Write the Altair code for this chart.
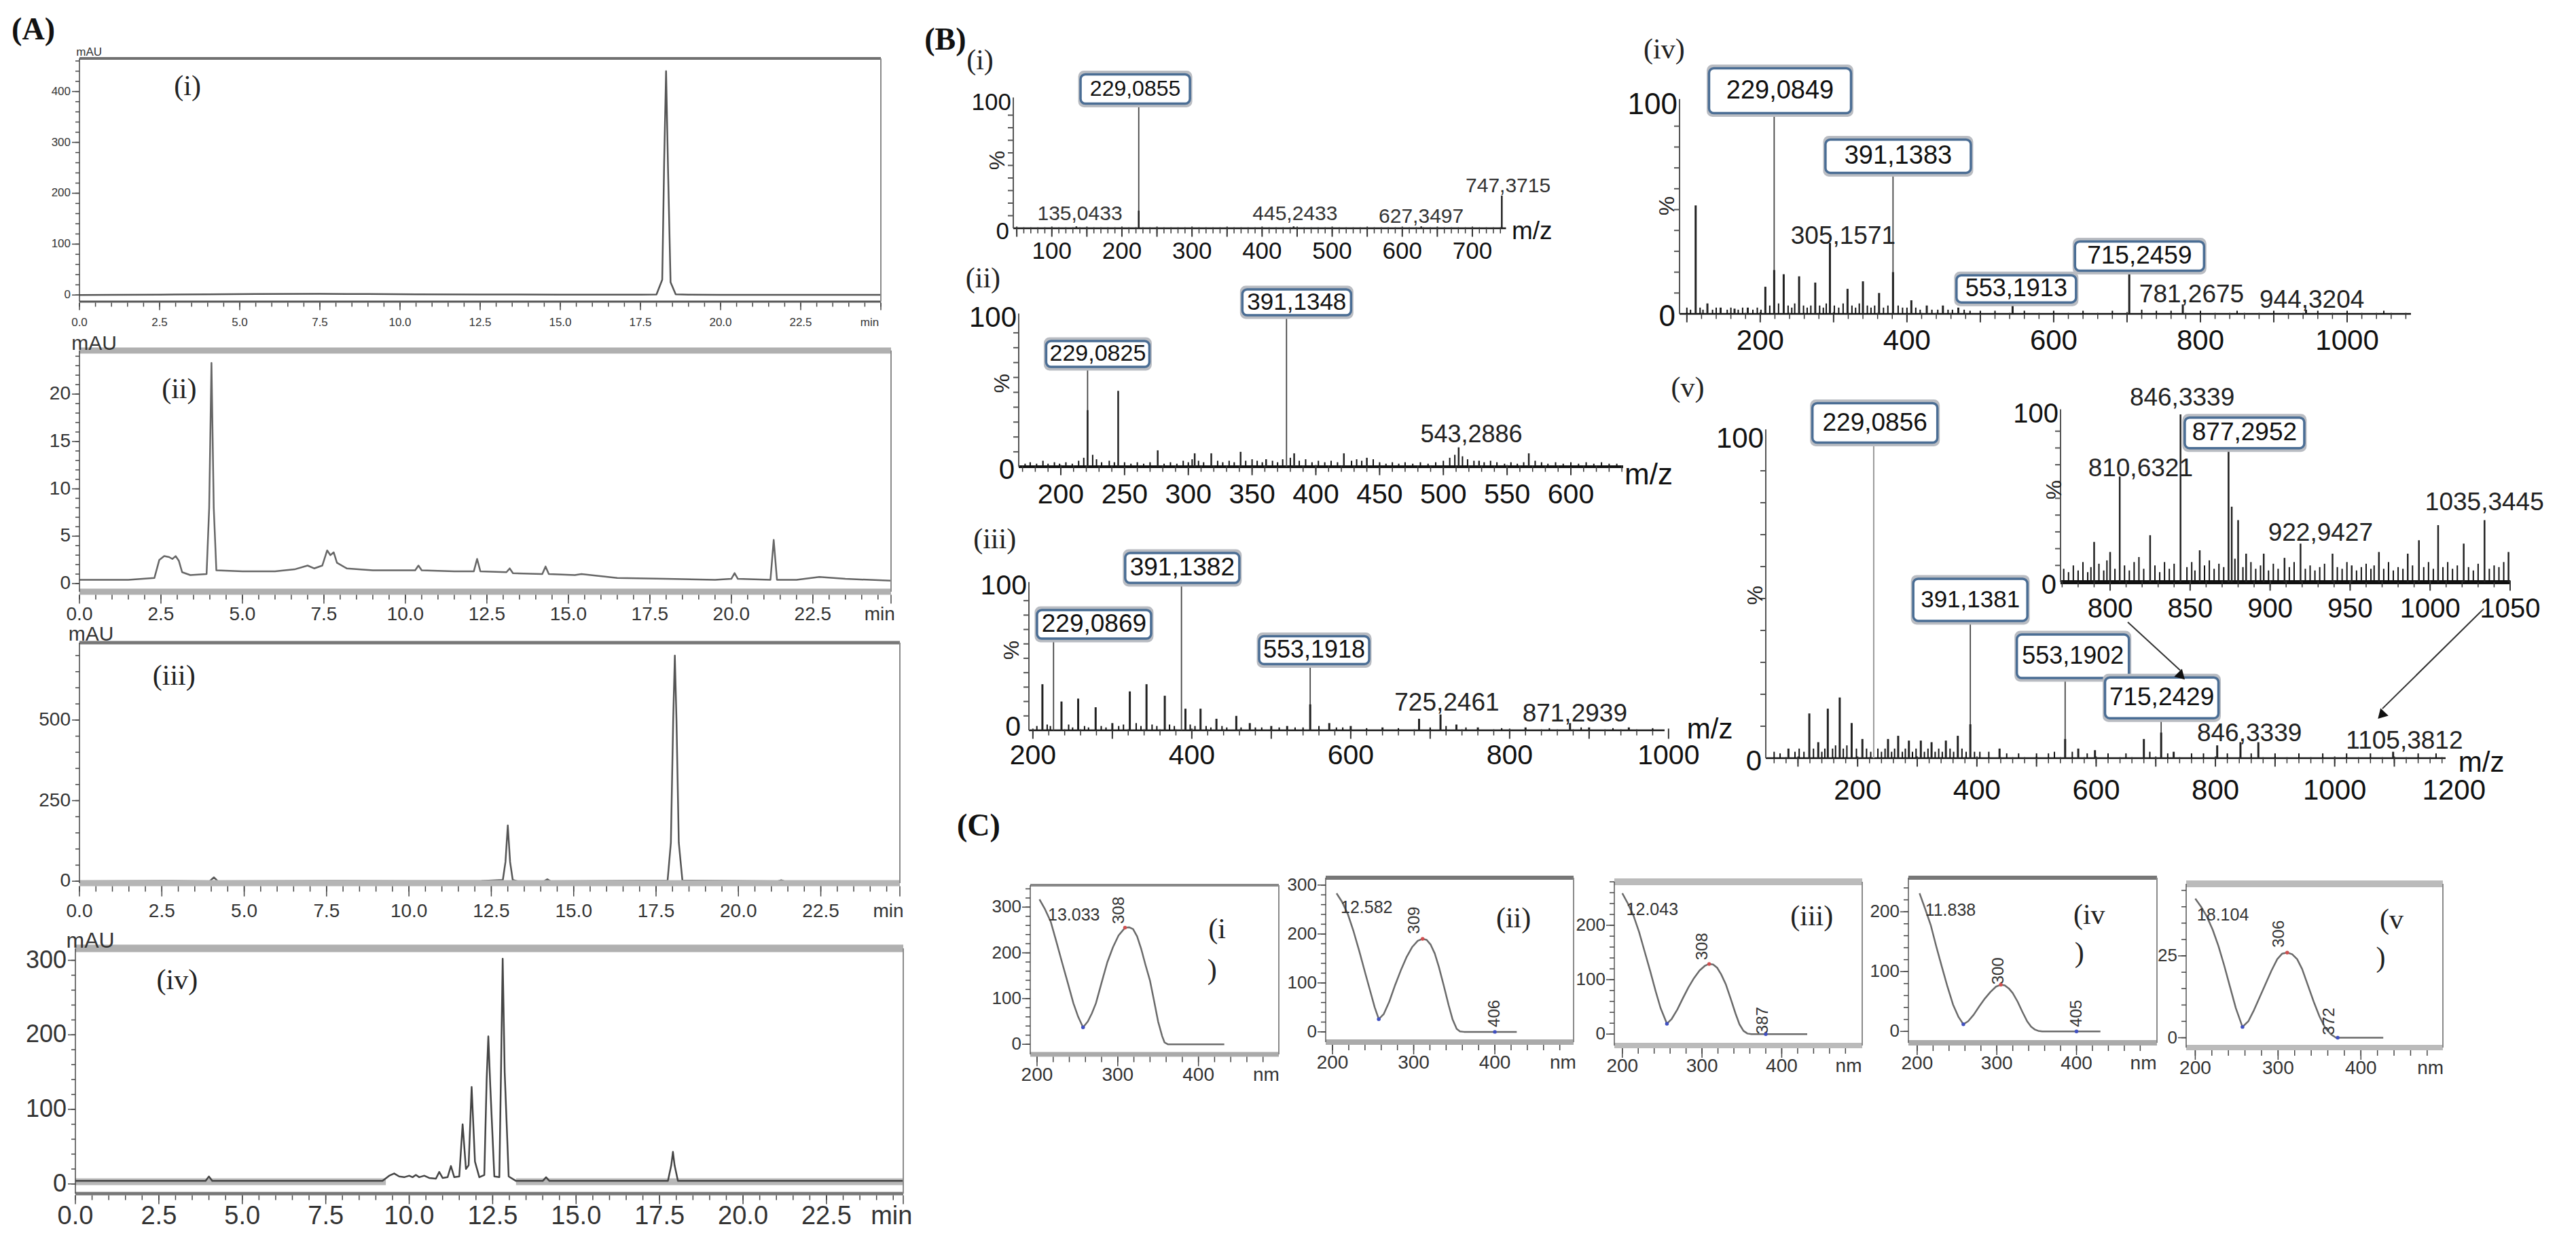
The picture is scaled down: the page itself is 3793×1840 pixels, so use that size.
import altair as alt
import pandas as pd

M = 8
W, H = 3777, 1824
SANS = "Liberation Sans, Arial, Helvetica, sans-serif"
NARROW = "Liberation Sans Narrow, Arial Narrow, Liberation Sans, sans-serif"
SERIF = "Liberation Serif, Times New Roman, serif"

# ---------------- (A) HPLC chromatograms: time (min) / absorbance (mAU) ----------------
a1_t = [0, 1, 2.5, 4, 5.5, 7.5, 9, 10.5, 12.5, 15, 17.5, 18.0, 18.18, 18.24, 18.3, 18.36, 18.44, 18.6, 19, 20, 22.5, 25]
a1_v = [0, 0.3, 0.8, 1.5, 2, 2.2, 2, 1.5, 1, 0.8, 0.7, 1.0, 30, 260, 440, 250, 25, 1.5, 0.7, 0.5, 0.5, 0.5]

a2_t = [0, 1.5, 2.3, 2.45, 2.6, 2.75, 2.85, 2.95, 3.05, 3.15, 3.4, 3.9, 3.98, 4.05, 4.12, 4.2, 5.0, 6.0, 6.6,
        7.0, 7.2, 7.45, 7.6, 7.7, 7.8, 7.9, 8.2, 9.0, 10.3, 10.4, 10.5, 11.5, 12.1, 12.2, 12.3, 13.1, 13.2,
        13.3, 14.2, 14.3, 14.4, 15.2, 15.4, 16.5, 18, 19.5, 20.0, 20.1, 20.2, 21.2, 21.3, 21.4, 22.0, 22.7,
        23.5, 24.9]
a2_v = [0.4, 0.4, 0.6, 2.5, 2.9, 2.8, 2.6, 2.9, 2.4, 1.2, 0.9, 1.0, 8, 23.3, 8, 1.4, 1.3, 1.3, 1.5,
        1.9, 1.6, 1.9, 3.5, 3.0, 3.3, 2.2, 1.6, 1.4, 1.4, 1.9, 1.4, 1.3, 1.3, 2.6, 1.3, 1.2, 1.6,
        1.1, 1.0, 1.8, 1.0, 0.9, 1.0, 0.6, 0.5, 0.4, 0.5, 1.1, 0.5, 0.4, 4.6, 0.4, 0.4, 0.7,
        0.5, 0.3]

a3_t = [0, 2.5, 3.95, 4.08, 4.2, 7.5, 10, 12.2, 12.85, 12.93, 13.0, 13.07, 13.15, 13.3, 14.1, 14.2, 14.3,
        17.85, 17.95, 18.02, 18.07, 18.12, 18.19, 18.3, 21.2, 21.3, 21.4, 24.9]
a3_v = [0, 1, 0, 12, 0, 1, 0.5, 1, 4, 60, 173, 60, 4, 0, 0, 6, 0,
        2, 120, 500, 700, 500, 120, 2, 0, 3, 0, 0]

a4_t = [0, 3.9, 4.0, 4.1, 9.2, 9.4, 9.55, 9.7, 9.85, 10.0, 10.1, 10.2, 10.3, 10.45, 10.6, 10.8, 10.9, 11.0,
        11.15, 11.25, 11.35, 11.5, 11.6, 11.7, 11.78, 11.87, 11.97, 12.1, 12.25, 12.32, 12.37, 12.43, 12.55,
        12.7, 12.75, 12.8, 12.86, 12.98, 13.2, 14.0, 14.1, 14.2, 17.75, 17.85, 17.9, 17.95, 18.05, 24.8]
a4_v = [4, 4, 10, 4, 4, 11, 14, 10, 9, 11, 9, 12, 9, 11, 8, 7, 16, 8,
        9, 24, 9, 10, 80, 20, 25, 130, 30, 9, 12, 140, 198, 130, 10,
        9, 150, 302, 150, 10, 4, 4, 9, 4, 4, 25, 43, 25, 4, 4]
# light grey baseline band of chromatogram (iv)
a4_band1_t = [0, 9.3]
a4_band1_v = [3, 3]
a4_band2_t = [13.2, 24.8]
a4_band2_v = [3, 3]

# ---------------- (B) mass spectra: m/z / relative intensity (%) ----------------
b1_mz = [135, 224, 445, 627, 742]
b1_h = [1.5, 14, 1.5, 1.5, 26]

b2_mz = [221, 245, 276, 305, 318, 341, 361, 383, 422, 440, 512, 528, 567]
b2_h = [38, 51, 11, 9, 9, 10, 5, 9, 9, 6, 13, 4, 9]
b2_nz_mz = [172, 176, 181, 186, 190, 195, 199, 204, 209, 214, 218, 225, 228, 232, 238, 242, 250, 255, 260, 265,
            270, 281, 286, 291, 296, 300, 303, 308, 312, 323, 327, 332, 336, 345, 350, 354, 358, 366, 370, 374,
            380, 387, 392, 397, 402, 407, 412, 417, 428, 432, 436, 445, 450, 455, 460, 465, 470, 476, 482, 488,
            494, 500, 505, 509, 515, 519, 524, 532, 537, 542, 548, 553, 558, 563, 572, 577, 582, 588, 594, 600,
            606, 612, 618, 624, 630, 636]
b2_nz_h = [2, 3, 2, 4, 2, 3, 2, 3, 2, 4, 6, 8, 5, 3, 4, 3, 3, 2, 3, 2,
           3, 2, 3, 2, 4, 3, 5, 4, 3, 4, 3, 4, 3, 4, 5, 4, 3, 4, 3, 5,
           6, 4, 5, 3, 4, 3, 4, 3, 4, 5, 4, 5, 3, 2, 3, 2, 3, 2, 3, 2,
           3, 4, 6, 8, 7, 5, 4, 3, 4, 3, 2, 3, 2, 3, 4, 3, 2, 3, 2, 3,
           2, 3, 2, 3, 2, 2]

b3_mz = [212, 236, 257, 279, 300, 322, 343, 366, 392, 411, 431, 456, 473, 500, 520, 549, 573, 600, 640, 686,
         713, 733, 760, 820, 876, 900, 950]
b3_h = [32, 20, 22, 16, 5, 27, 32, 24, 15, 15, 8, 10, 5, 3, 3, 18, 5, 3, 2, 8,
        11, 4, 2, 2, 5, 2, 2]
b3_nz_mz = [205, 218, 222, 245, 250, 265, 270, 286, 292, 308, 314, 330, 336, 350, 356, 372, 378, 398, 404, 418,
            424, 438, 444, 462, 480, 488, 510, 530, 540, 560, 582, 590, 620, 660, 700, 720, 745, 790, 850, 890,
            930, 980]
b3_nz_h = [3, 4, 3, 4, 2, 3, 2, 3, 2, 3, 4, 5, 3, 4, 3, 4, 3, 4, 3, 3,
           2, 3, 2, 2, 2, 2, 2, 2, 2, 3, 2, 2, 1.5, 1.5, 2, 3, 2, 1.5, 1.5, 2,
           1.5, 1.5]

b4_mz = [112, 128, 146, 165, 183, 207, 219, 232, 253, 275, 295, 319, 340, 362, 381, 406, 427, 449, 470, 544,
         703, 776, 944]
b4_h = [52, 5, 3, 2.5, 3, 13, 21, 19, 18, 15, 34, 12, 15.6, 10, 20, 6.5, 4, 4, 3, 5,
        20.5, 4.5, 2]
b4_nz_mz = [100, 105, 118, 122, 135, 140, 155, 160, 170, 176, 190, 196, 201, 213, 225, 238, 243, 247, 259, 264,
            269, 281, 286, 290, 301, 307, 313, 325, 330, 335, 346, 351, 356, 368, 374, 388, 394, 400, 412, 418,
            434, 442, 456, 462, 478, 486, 500, 520, 560, 600, 640, 680, 720, 740, 760, 800, 850, 900, 960, 1000,
            1050]
b4_nz_h = [3, 2, 3, 2, 2, 3, 2, 3, 2, 3, 2, 3, 2, 4, 5, 4, 3, 5, 4, 3,
           4, 4, 3, 5, 4, 3, 5, 4, 3, 5, 4, 3, 4, 3, 4, 4, 3, 3, 3, 2,
           2, 2, 2, 2, 2, 1.5, 1.5, 1.5, 1.5, 1.5, 1.5, 1.5, 2, 1.5, 1.5, 1.5, 1.5, 1.5, 1.5, 1.5,
           1.5]

b5_mz = [84, 119, 134, 150, 170, 190, 208, 251, 268, 286, 306, 324, 348, 368, 389, 438, 548, 570, 598, 680,
         709, 730, 803, 842, 872, 1098]
b5_h = [3, 14, 5, 15.5, 19, 11, 6, 6, 7, 5.5, 5.5, 5, 5.5, 7, 10.6, 3, 6, 3, 2.5, 6,
        8, 2, 4, 5, 5, 2]
b5_nz_mz = [60, 70, 95, 102, 110, 126, 140, 145, 158, 163, 176, 182, 198, 215, 222, 234, 240, 246, 257, 262,
            275, 280, 292, 298, 312, 318, 330, 336, 342, 355, 361, 375, 382, 396, 405, 420, 450, 470, 500, 520,
            530, 560, 585, 620, 650, 690, 720, 760, 780, 820, 860, 900, 940, 980, 1020, 1060, 1140, 1170]
b5_nz_h = [2, 1.5, 2, 3, 2, 3, 2, 3, 3, 4, 3, 4, 3, 3, 2, 3, 2, 3, 2, 3,
           2, 3, 2, 3, 2, 3, 2, 3, 2, 3, 2, 3, 2, 2, 2, 2, 1.5, 1.5, 1.5, 1.5,
           2, 2, 1.5, 1.5, 1.5, 2, 1.5, 1.5, 1.5, 1.5, 1.5, 1.5, 1.5, 1.5, 1.5, 1.5, 1.5, 1.5]

in_mz = [790, 800, 806, 825, 844, 856, 874, 876, 880, 885, 896, 909, 919, 939, 951, 968, 986, 993, 1005, 1021,
         1034, 1049]
in_h = [24, 18, 63, 28, 100, 19, 80, 45, 37, 17, 17, 14.5, 23, 17, 10, 18, 17, 25, 34, 23,
        37, 18]
in_nz_mz = [771, 774, 777, 780, 783, 786, 788, 793, 796, 798, 803, 809, 812, 815, 818, 821, 828, 831, 834, 837,
            840, 848, 851, 853, 859, 862, 865, 868, 871, 878, 883, 888, 891, 894, 899, 902, 905, 912, 915, 922,
            925, 928, 931, 934, 942, 945, 948, 954, 957, 960, 963, 965, 971, 974, 977, 980, 983, 989, 996, 999,
            1002, 1008, 1011, 1014, 1017, 1024, 1027, 1030, 1037, 1040, 1043, 1046]
in_nz_h = [8, 6, 10, 7, 12, 6, 9, 11, 7, 13, 8, 10, 7, 12, 15, 8, 10, 6, 12, 8,
           11, 9, 12, 7, 10, 13, 8, 11, 9, 14, 9, 12, 8, 10, 7, 11, 8, 9, 12, 8,
           10, 7, 9, 11, 9, 8, 12, 7, 9, 11, 8, 10, 8, 12, 7, 9, 8, 10, 9, 12,
           8, 9, 12, 8, 10, 9, 7, 11, 8, 10, 9, 12]

# ---------------- (C) UV spectra: wavelength (nm) / absorbance ----------------
c1_nm = [203, 210, 217, 224, 231, 238, 245, 251, 257, 263, 268, 273, 280, 287, 294, 301, 309, 314, 319, 324,
         329, 334, 340, 345, 350, 355, 358, 362, 380, 432]
c1_ab = [317, 295, 268, 224, 179, 135, 90, 60, 37, 50, 68, 90, 135, 179, 212, 238, 255, 256, 252, 236,
         209, 176, 139, 95, 50, 18, 4, 0, 0, 0]
c2_nm = [205, 212, 219, 226, 233, 240, 247, 252, 257, 263, 270, 277, 284, 291, 298, 305, 311, 316, 321, 326,
         331, 337, 343, 348, 353, 357, 362, 380, 427]
c2_ab = [283, 265, 240, 205, 165, 122, 80, 50, 26, 36, 62, 95, 125, 152, 173, 186, 190, 188, 178, 160,
         133, 95, 55, 25, 6, 1, 0, 0, 0]
c3_nm = [200, 207, 214, 221, 228, 235, 242, 248, 256, 262, 269, 276, 283, 290, 297, 304, 309, 314, 319, 324,
         330, 336, 342, 347, 352, 357, 362, 380, 432]
c3_ab = [259, 240, 218, 188, 152, 116, 78, 48, 19, 28, 45, 66, 86, 103, 117, 126, 129, 128, 122, 110,
         91, 65, 38, 18, 6, 1, 0, 0, 0]
c4_nm = [203, 210, 217, 224, 231, 238, 245, 252, 258, 264, 271, 278, 285, 292, 299, 305, 310, 315, 320, 326,
         332, 338, 343, 348, 352, 357, 380, 430]
c4_ab = [231, 205, 178, 142, 108, 75, 45, 24, 12, 17, 28, 42, 55, 66, 75, 78, 77, 72, 64, 50,
         33, 17, 8, 3, 1, 0, 0, 0]
c5_nm = [200, 207, 214, 221, 228, 235, 242, 249, 257, 264, 271, 278, 285, 292, 299, 305, 311, 317, 323, 329,
         336, 343, 350, 357, 364, 370, 380, 427]
c5_ab = [42.5, 40, 37, 33, 28, 22, 15.5, 9, 3.3, 5, 8.5, 12.5, 16.5, 20.5, 24, 25.7, 26, 25.5, 24, 21,
         16, 11, 6.5, 3, 1, 0, 0, 0]


def frange(a, b, s):
    out, v = [], a
    while v <= b + 1e-9:
        out.append(round(v, 4))
        v += s
    return out


class Panel:
    def __init__(self, xd, xpx, yd, ypx):
        self.xd, self.yd = xd, yd
        self.xs = alt.Scale(domain=list(xd), range=[xpx[0] - M, xpx[1] - M], nice=False, zero=False)
        self.ys = alt.Scale(domain=list(yd), range=[ypx[0] - M, ypx[1] - M], nice=False, zero=False)
        self.layers = []

    def X(self, f):
        return alt.X(f"{f}:Q", scale=self.xs, axis=None)

    def Y(self, f):
        return alt.Y(f"{f}:Q", scale=self.ys, axis=None)

    def line(self, xs, ys, **mk):
        df = pd.DataFrame({"x": xs, "y": ys})
        self.layers.append(alt.Chart(df).mark_line(**mk).encode(x=self.X("x"), y=self.Y("y")))

    def sticks(self, xs, hs, **mk):
        df = pd.DataFrame({"x": xs, "h": hs, "b": [0.0] * len(xs)})
        self.layers.append(alt.Chart(df).mark_rule(**mk).encode(
            x=self.X("x"), y=self.Y("b"), y2=alt.Y2("h")))

    def hseg(self, y, x0, x1, **mk):
        df = pd.DataFrame({"x": [x0], "x2": [x1], "y": [y]})
        self.layers.append(alt.Chart(df).mark_rule(**mk).encode(
            x=self.X("x"), x2=alt.X2("x2"), y=self.Y("y")))

    def vseg(self, x, y0, y1, **mk):
        df = pd.DataFrame({"x": [x], "y": [y0], "y2": [y1]})
        self.layers.append(alt.Chart(df).mark_rule(**mk).encode(
            x=self.X("x"), y=self.Y("y"), y2=alt.Y2("y2")))

    def seg(self, xa, ya, xb, yb, **mk):
        df = pd.DataFrame({"x": [xa], "y": [ya], "x2": [xb], "y2": [yb]})
        self.layers.append(alt.Chart(df).mark_rule(**mk).encode(
            x=self.X("x"), y=self.Y("y"), x2=alt.X2("x2"), y2=alt.Y2("y2")))

    def xticks(self, vals, at, size, off, **mk):
        df = pd.DataFrame({"x": vals, "y": [at] * len(vals)})
        self.layers.append(alt.Chart(df).mark_tick(
            orient="vertical", size=size, yOffset=off, opacity=1, **mk).encode(x=self.X("x"), y=self.Y("y")))

    def yticks(self, vals, at, size, off, **mk):
        df = pd.DataFrame({"x": [at] * len(vals), "y": vals})
        self.layers.append(alt.Chart(df).mark_tick(
            orient="horizontal", size=size, xOffset=off, opacity=1, **mk).encode(x=self.X("x"), y=self.Y("y")))

    def text(self, xs, ys, labels, **mk):
        df = pd.DataFrame({"x": xs, "y": ys, "t": labels})
        self.layers.append(alt.Chart(df).mark_text(**mk).encode(
            x=self.X("x"), y=self.Y("y"), text="t:N"))

    def box(self, x, y, w, h, **mk):
        df = pd.DataFrame({"x": [x], "y": [y]})
        self.layers.append(alt.Chart(df).mark_rect(
            xOffset=-w / 2, x2Offset=w / 2, yOffset=-h / 2, y2Offset=h / 2, **mk).encode(
            x=self.X("x"), x2=alt.X2("x"), y=self.Y("y"), y2=alt.Y2("y")))

    def pts(self, xs, ys, **mk):
        df = pd.DataFrame({"x": xs, "y": ys})
        self.layers.append(alt.Chart(df).mark_point(filled=True, opacity=1, **mk).encode(
            x=self.X("x"), y=self.Y("y")))

    def chart(self):
        return alt.layer(*self.layers)


# ---------------- chromatogram panels ----------------
def chrom(xd, xpx, yd, ypx, t, v, *, ymaj, ylabs, ystep, fs, yfs, dy, top, bot, tag, tag_xy,
          mau_xy, mau_fs, line_c="#555", line_w=2.5, tick_lens=(7, 13), tag_fs=42, bands=()):
    p = Panel(xd, xpx, yd, ypx)
    x0, x1 = xd
    y0, y1 = yd
    for bt, bv in bands:
        p.line(bt, bv, color="#b8b8b8", strokeWidth=10)
    p.line(t, v, color=line_c, strokeWidth=line_w, strokeJoin="round")
    p.hseg(y1, x0, x1, color=top[0], strokeWidth=top[1])
    p.hseg(y0, x0, x1, color=bot[0], strokeWidth=bot[1])
    p.vseg(x1, y0, y1, color="#8a8a8a", strokeWidth=2)
    p.vseg(x0, y0, y1, color="#444", strokeWidth=1.5)
    mn, mj = tick_lens
    p.xticks(frange(0, x1, 0.5), y0, mn, bot[1] / 2 + mn / 2, color="#444", thickness=1.5)
    majors = frange(0, 22.5, 2.5)
    p.xticks(majors + [x1], y0, mj, bot[1] / 2 + mj / 2, color="#444", thickness=1.5)
    p.text(majors, [y0] * len(majors), ["%.1f" % m for m in majors], font=NARROW, fontSize=fs,
           color="#333", dy=dy, baseline="middle")
    p.text([x1 - 0.35], [y0], ["min"], font=NARROW, fontSize=fs, color="#333", dy=dy, baseline="middle")
    p.yticks(frange(0, y1, ystep), x0, 6, -3, color="#444", thickness=1.5)
    p.yticks(ymaj, x0, 11, -5.5, color="#444", thickness=1.5)
    p.text([x0] * len(ymaj), ymaj, ylabs, font=NARROW, fontSize=yfs, color="#333", align="right",
           baseline="middle", dx=-13)
    p.text([mau_xy[0]], [mau_xy[1]], ["mAU"], font=NARROW, fontSize=mau_fs, color="#333", baseline="middle")
    p.text([tag_xy[0]], [tag_xy[1]], [tag], font=SERIF, fontSize=tag_fs, color="#222", baseline="middle")
    return p


A1 = chrom((0, 25), (117, 1297), (-13, 465), (444, 86), a1_t, a1_v,
           ymaj=[0, 100, 200, 300, 400], ylabs=["0", "100", "200", "300", "400"], ystep=20,
           fs=17, yfs=17, dy=31, top=("#707070", 4), bot=("#555", 3), tag="(i)", tag_xy=(3.37, 410),
           mau_xy=(0.3, 477), mau_fs=17, tick_lens=(6, 11))
A1.text([-1.44], [521], ["(A)"], font=SERIF, fontSize=46, fontWeight="bold", color="#111", baseline="middle")

A2 = chrom((0, 24.9), (117, 1312), (-0.86, 24.6), (871, 516), a2_t, a2_v,
           ymaj=[0, 5, 10, 15, 20], ylabs=["0", "5", "10", "15", "20"], ystep=1,
           fs=28, yfs=28, dy=34, top=("#b0b0b0", 9), bot=("#b0b0b0", 9), tag="(ii)", tag_xy=(3.06, 20.5),
           mau_xy=(0.45, 25.3), mau_fs=30, line_c="#666")

A3 = chrom((0, 24.9), (117, 1325), (-6, 740), (1300, 946), a3_t, a3_v,
           ymaj=[0, 250, 500], ylabs=["0", "250", "500"], ystep=50,
           fs=28, yfs=28, dy=42, top=("#777", 5), bot=("#b5b5b5", 9), tag="(iii)", tag_xy=(2.87, 637),
           mau_xy=(0.35, 765), mau_fs=30, tick_lens=(8, 15))

A4 = chrom((0, 24.8), (111, 1330), (-13, 316), (1757, 1396), a4_t, a4_v,
           ymaj=[0, 100, 200, 300], ylabs=["0", "100", "200", "300"], ystep=20,
           fs=38, yfs=36, dy=34, top=("#b0b0b0", 11), bot=("#777", 5), tag="(iv)", tag_xy=(3.05, 273),
           mau_xy=(0.45, 326), mau_fs=32, line_c="#444",
           bands=[(a4_band1_t, a4_band1_v), (a4_band2_t, a4_band2_v)])


# ---------------- mass spectrum panels ----------------
def spec(xd, xpx, ypx, *, minor, major, labvals, fs, dy, yfs, tag, tag_xy, pct_xy, axis_w=2.5, ytop=103,
         mz_xy=None, mz_fs=40, zero_dx=-6, zero_dy=5):
    p = Panel(xd, xpx, (0, 100), ypx)
    x0, x1 = xd
    p.hseg(0, x0, x1, color="#111", strokeWidth=axis_w)
    p.vseg(x0, 0, ytop, color="#555", strokeWidth=2)
    p.xticks(minor, 0, 9, 3, color="#333", thickness=1.5)
    p.xticks(major, 0, 15, 5, color="#333", thickness=2)
    p.yticks(frange(10, 90, 10), x0, 8, -4, color="#555", thickness=2)
    p.text(labvals, [0] * len(labvals), [str(v) for v in labvals], font=SANS, fontSize=fs, color="#111",
           dy=dy, baseline="middle")
    p.text([x0], [100], ["100"], font=SANS, fontSize=yfs, color="#111", align="right", baseline="middle", dx=-3)
    p.text([x0], [0], ["0"], font=SANS, fontSize=yfs, color="#111", align="right", baseline="middle",
           dx=zero_dx, dy=zero_dy)
    p.text([pct_xy[0]], [pct_xy[1]], ["%"], font=SANS, fontSize=32, color="#222", angle=270, baseline="middle")
    if tag:
        p.text([tag_xy[0]], [tag_xy[1]], [tag], font=SERIF, fontSize=42, color="#222", baseline="middle")
    if mz_xy:
        p.text([mz_xy[0]], [mz_xy[1]], ["m/z"], font=SANS, fontSize=mz_fs, color="#111", baseline="middle")
    return p


BOX = dict(fill="white", stroke="#4a6d94", strokeWidth=3.5, cornerRadius=7)
SHADOW = dict(fill="#b9bcc2", stroke="#b9bcc2", strokeWidth=3, cornerRadius=7)


def label_box(p, x, y, w, h, txt, fs):
    p.box(x, y, w + 4, h + 8, **SHADOW)
    p.box(x, y, w, h, **BOX)
    p.text([x], [y], [txt], font=SANS, fontSize=fs, color="#111", baseline="middle")


# B(i)
B1 = spec((45, 748), (1492, 2217.5), (336, 151), minor=frange(50, 740, 10), major=frange(50, 700, 50),
          labvals=[100, 200, 300, 400, 500, 600, 700], fs=35, dy=34, yfs=35, tag="(i)", tag_xy=(-2.5, 133.5),
          pct_xy=(22.7, 54), mz_xy=(785, -2.7), mz_fs=37, ytop=104)
B1.sticks([224], [110], color="#444", strokeWidth=1.8)
B1.sticks(b1_mz, b1_h, color="#222", strokeWidth=2.5)
label_box(B1, 219, 110.8, 161, 43, "229,0855", 32)
B1.text([140, 447, 627, 751], [11.4, 11.4, 9, 33.5], ["135,0433", "445,2433", "627,3497", "747,3715"],
        font=SANS, fontSize=30, color="#333", baseline="middle")
B1.text([-52], [150], ["(B)"], font=SERIF, fontSize=46, fontWeight="bold", color="#111", baseline="middle")

# B(ii)
B2 = spec((167, 641), (1500, 2390), (687, 468), minor=frange(170, 640, 10), major=frange(200, 600, 50),
          labvals=[200, 250, 300, 350, 400, 450, 500, 550, 600], fs=41, dy=42, yfs=42, tag="(ii)",
          tag_xy=(139, 126.5), pct_xy=(154, 56), mz_xy=(661, -6), mz_fs=44, axis_w=4)
B2.sticks(b2_nz_mz, b2_nz_h, color="#111", strokeWidth=2)
B2.sticks([221, 377], [76, 110], color="#444", strokeWidth=1.8)
B2.sticks(b2_mz, b2_h, color="#222", strokeWidth=2.5)
label_box(B2, 229, 75.8, 152, 38, "229,0825", 34)
label_box(B2, 385, 110.5, 160, 38, "391,1348", 35)
B2.text([522], [21.5], ["543,2886"], font=SANS, fontSize=36, color="#222", baseline="middle")

# B(iii)
B3 = spec((195, 995), (1515, 2451), (1075, 863), minor=frange(200, 980, 20), major=frange(200, 1000, 100),
          labvals=[200, 400, 600, 800, 1000], fs=41, dy=38, yfs=41, tag="(iii)", tag_xy=(152, 132.5),
          pct_xy=(174, 55.7), mz_xy=(1052, 0.5), mz_fs=42, zero_dx=-12, zero_dy=-4)
B3.sticks(b3_nz_mz, b3_nz_h, color="#111", strokeWidth=2)
B3.sticks([226, 387, 549], [74, 112, 56], color="#444", strokeWidth=1.8)
B3.sticks(b3_mz, b3_h, color="#222", strokeWidth=3)
label_box(B3, 277, 73.6, 168, 42, "229,0869", 37)
label_box(B3, 388, 112.7, 168, 44, "391,1382", 37)
label_box(B3, 554, 55.7, 162, 41, "553,1918", 36)
B3.text([721, 882], [18.9, 11.3], ["725,2461", "871,2939"], font=SANS, fontSize=37, color="#222",
        baseline="middle")

# B(iv)
B4 = spec((90, 1087), (2473, 3550), (462, 155), minor=frange(100, 1080, 20), major=frange(100, 1000, 100),
          labvals=[200, 400, 600, 800, 1000], fs=42, dy=40, yfs=44, tag="(iv)", tag_xy=(69, 126.7),
          pct_xy=(73, 51.8))
B4.sticks(b4_nz_mz, b4_nz_h, color="#111", strokeWidth=2)
B4.sticks([219, 381, 703], [107, 76, 28], color="#444", strokeWidth=1.8)
B4.sticks(b4_mz, b4_h, color="#222", strokeWidth=3)
label_box(B4, 227, 107, 209, 66, "229,0849", 38)
label_box(B4, 388, 75.6, 214, 49, "391,1383", 38)
label_box(B4, 549, 12, 176, 40, "553,1913", 36)
label_box(B4, 717, 27.7, 190, 43, "715,2459", 37)
B4.text([313, 788, 952], [37, 9.1, 6.5], ["305,1571", "781,2675", "944,3204"], font=SANS, fontSize=37,
        color="#222", baseline="middle")

# B(v)
B5 = spec((46, 1186), (2600, 3601), (1116, 646), minor=frange(60, 1180, 20), major=frange(100, 1100, 100),
          labvals=[200, 400, 600, 800, 1000, 1200], fs=42, dy=48, yfs=42, tag="(v)", tag_xy=(-85, 116),
          pct_xy=(29, 51), mz_xy=(1246, -1.5), mz_fs=42)
B5.sticks(b5_nz_mz, b5_nz_h, color="#111", strokeWidth=2)
B5.sticks([227], [105], color="#9a9a9a", strokeWidth=2)
B5.sticks([389, 548, 709], [50, 32, 19], color="#444", strokeWidth=1.8)
B5.sticks(b5_mz, b5_h, color="#222", strokeWidth=3)
label_box(B5, 229, 105, 184, 58, "229,0856", 37)
label_box(B5, 389, 49.6, 168, 62, "391,1381", 35)
label_box(B5, 561, 31.9, 165, 64, "553,1902", 36)
label_box(B5, 710, 18.9, 167, 60, "715,2429", 37)
B5.text([857, 1117], [7.7, 5.3], ["846,3339", "1105,3812"], font=SANS, fontSize=37, color="#222",
        baseline="middle")
# arrows from the inset axis to the zoomed region
B5.seg(653, 42.6, 741, 27.5, color="#333", strokeWidth=2)
B5.seg(1250, 46.8, 1080, 15.5, color="#333", strokeWidth=2)
B5.pts([743], [25.7], shape="triangle-up", size=260, color="#111", angle=135)
B5.pts([1078], [13.4], shape="triangle-up", size=260, color="#111", angle=224)

# B(v) inset
BI = spec((769, 1050), (3034, 3696), (857, 610), minor=frange(770, 1050, 10), major=frange(800, 1050, 50),
          labvals=[800, 850, 900, 950, 1000, 1050], fs=40, dy=40, yfs=40, tag="", tag_xy=(769, 0),
          pct_xy=(765, 55), axis_w=6)
BI.sticks(in_nz_mz, in_nz_h, color="#111", strokeWidth=2)
BI.sticks([874], [86], color="#444", strokeWidth=1.8)
BI.sticks(in_mz, in_h, color="#222", strokeWidth=2.5)
label_box(BI, 884, 89, 176, 45, "877,2952", 37)
BI.text([845, 819, 931.5, 1034], [109.7, 67.6, 29, 47.4], ["846,3339", "810,6321", "922,9427", "1035,3445"],
        font=SANS, fontSize=37, color="#222", baseline="middle")


# ---------------- UV spectra panels ----------------
def uv(xd, xpx, yd, ypx, nm, ab, *, ymaj, ystep, top, bot, rt, rt_xy, pk, pk_xy, tags, end=None,
       peak_pt=None, min_pt=None, end_pt=None):
    p = Panel(xd, xpx, yd, ypx)
    x0, x1 = xd
    y0, y1 = yd
    p.line(nm, ab, color="#6a6a6a", strokeWidth=2.5, strokeJoin="round")
    p.hseg(y1, x0, x1, color=top[0], strokeWidth=top[1])
    p.hseg(y0, x0, x1, color=bot[0], strokeWidth=bot[1])
    p.vseg(x1, y0, y1, color="#8a8a8a", strokeWidth=2)
    p.vseg(x0, y0, y1, color="#555", strokeWidth=1.5)
    p.xticks(frange(200, 480, 20), y0, 8, bot[1] / 2 + 4, color="#444", thickness=1.5)
    p.xticks([200, 300, 400], y0, 14, bot[1] / 2 + 7, color="#444", thickness=1.5)
    p.text([200, 300, 400], [y0] * 3, ["200", "300", "400"], font=NARROW, fontSize=28, color="#333",
           dy=bot[1] / 2 + 27, baseline="middle")
    p.text([484], [y0], ["nm"], font=NARROW, fontSize=28, color="#333", dy=bot[1] / 2 + 27, baseline="middle")
    p.yticks(frange(0, y1, ystep), x0, 7, -3.5, color="#444", thickness=1.5)
    p.yticks(ymaj, x0, 12, -6, color="#444", thickness=1.5)
    p.text([x0] * len(ymaj), ymaj, [str(v) for v in ymaj], font=NARROW, fontSize=26, color="#333",
           align="right", baseline="middle", dx=-13)
    p.text([rt_xy[0]], [rt_xy[1]], [rt], font=NARROW, fontSize=25, color="#333", align="left", baseline="middle")
    p.text([pk_xy[0]], [pk_xy[1]], [pk], font=NARROW, fontSize=24, color="#333", angle=270, baseline="middle")
    if end:
        p.text([end[1][0]], [end[1][1]], [end[0]], font=NARROW, fontSize=24, color="#333", angle=270,
               baseline="middle")
    for txt, (tx, ty) in tags:
        p.text([tx], [ty], [txt], font=SERIF, fontSize=42, color="#222", baseline="middle")
    if peak_pt:
        p.pts([peak_pt[0]], [peak_pt[1]], color="#d05050", size=30, shape="circle")
    if min_pt:
        p.pts([min_pt[0]], [min_pt[1]], color="#4050c0", size=30, shape="circle")
    if end_pt:
        p.pts([end_pt[0]], [end_pt[1]], color="#4050c0", size=30, shape="circle")
    return p


C1 = uv((191.6, 499.6), (1517, 1883), (-22, 348), (1552, 1303), c1_nm, c1_ab, ymaj=[0, 100, 200, 300], ystep=20,
        top=("#888", 4), bot=("#aaa", 7), rt="13.033", rt_xy=(213.5, 282), pk="308", pk_xy=(302, 293),
        tags=[("(i", (423, 251)), (")", (417, 162))], peak_pt=(309, 255), min_pt=(257, 37))
C1.text([127.6], [478], ["(C)"], font=SERIF, fontSize=46, fontWeight="bold", color="#111", baseline="middle")

C2 = uv((191.6, 497), (1952, 2317), (-21, 315), (1534, 1292), c2_nm, c2_ab, ymaj=[0, 100, 200, 300], ystep=20,
        top=("#777", 6), bot=("#aaa", 8), rt="12.582", rt_xy=(210, 254), pk="309", pk_xy=(301, 228),
        tags=[("(ii)", (423, 232))], end=("406", (400, 37.5)), peak_pt=(311, 190), min_pt=(257, 26),
        end_pt=(400, 0))

C3 = uv((190, 501), (2377, 2742), (-21, 280), (1539, 1298), c3_nm, c3_ab, ymaj=[0, 100, 200], ystep=20,
        top=("#bbb", 10), bot=("#bbb", 8), rt="12.043", rt_xy=(205, 229), pk="308", pk_xy=(300.6, 161),
        tags=[("(iii)", (437.7, 216))], end=("387", (377, 25)), peak_pt=(309, 129), min_pt=(256, 19),
        end_pt=(380, 0))

C4 = uv((189, 501), (2810, 3176), (-19, 257), (1535, 1292), c4_nm, c4_ab, ymaj=[0, 100, 200], ystep=20,
        top=("#777", 6), bot=("#aaa", 8), rt="11.838", rt_xy=(210, 202), pk="300", pk_xy=(302, 101),
        tags=[("(iv", (416, 195)), (")", (403.5, 131))], end=("405", (400, 30)), peak_pt=(305, 78),
        min_pt=(258, 12), end_pt=(400, 0))

C5 = uv((189, 499), (3219, 3597), (-3, 47), (1542, 1301), c5_nm, c5_ab, ymaj=[0, 25], ystep=5,
        top=("#bbb", 10), bot=("#bbb", 8), rt="18.104", rt_xy=(202, 37.5), pk="306", pk_xy=(301, 31.7),
        tags=[("(v", (437, 36)), (")", (424, 24.4))], end=("372", (362, 5)), peak_pt=(311, 26),
        min_pt=(257, 3.3), end_pt=(372, 0))

panels = [A1, A2, A3, A4, B1, B2, B3, B4, B5, BI, C1, C2, C3, C4, C5]

chart = alt.layer(*[p.chart() for p in panels]).resolve_scale(
    x="independent", y="independent"
).properties(
    width=W, height=H, padding=0, autosize=alt.AutoSizeParams(type="none")
).configure_view(stroke=None)

chart.save("out.html", embed_options={"renderer": "svg", "actions": False})
